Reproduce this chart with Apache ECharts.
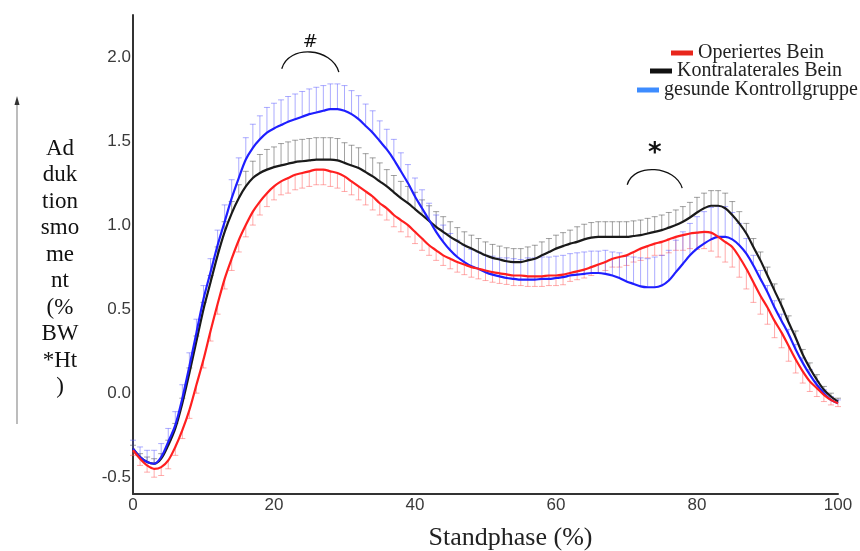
<!DOCTYPE html>
<html>
<head>
<meta charset="utf-8">
<script src="https://cdn.jsdelivr.net/npm/echarts@6/dist/echarts.min.js"></script>
<style>html,body{margin:0;padding:0;background:#fff;}#c{width:860px;height:551px;}</style>
</head>
<body>
<div id="c"></div>
<script>
// ---- data ----
const stancePhase = Array.from({length: 101}, (_, i) => i); // 0..100 % stance
const xTicks = [0, 20, 40, 60, 80, 100];
const yTickLabels = ['-0.5', '0.0', '0.5', '1.0', '1.5', '2.0'];
const seriesNames = ['Operiertes Bein', 'Kontralaterales Bein', 'gesunde Kontrollgruppe'];

const operiertMean = [
 -0.34,-0.39,-0.43,-0.45,-0.44,-0.40,-0.32,-0.22,-0.10,0.05,
 0.20,0.37,0.53,0.68,0.80,0.91,1.00,1.08,1.14,1.19,
 1.23,1.26,1.28,1.30,1.31,1.32,1.33,1.33,1.32,1.31,
 1.29,1.26,1.23,1.20,1.17,1.13,1.10,1.06,1.03,1.00,
 0.96,0.92,0.88,0.85,0.82,0.80,0.78,0.765,0.75,0.74,
 0.73,0.72,0.713,0.707,0.70,0.70,0.695,0.695,0.695,0.70,
 0.70,0.705,0.715,0.725,0.735,0.75,0.765,0.78,0.80,0.81,
 0.82,0.84,0.86,0.875,0.89,0.90,0.915,0.93,0.94,0.95,
 0.955,0.96,0.955,0.93,0.90,0.87,0.81,0.74,0.66,0.58,
 0.51,0.43,0.36,0.28,0.20,0.13,0.07,0.03,-0.01,-0.04,
 -0.06];
const operiertSD = [
 0.03,0.04,0.04,0.05,0.05,0.05,0.05,0.05,0.05,0.05,
 0.05,0.06,0.06,0.06,0.07,0.07,0.07,0.08,0.08,0.08,
 0.08,0.08,0.09,0.09,0.09,0.09,0.09,0.09,0.09,0.09,
 0.09,0.08,0.08,0.08,0.08,0.07,0.07,0.07,0.07,0.07,
 0.07,0.07,0.06,0.06,0.06,0.06,0.06,0.06,0.06,0.06,
 0.06,0.06,0.06,0.06,0.06,0.06,0.06,0.06,0.06,0.06,
 0.06,0.06,0.05,0.05,0.05,0.05,0.05,0.05,0.05,0.06,
 0.06,0.06,0.07,0.07,0.07,0.08,0.08,0.08,0.09,0.09,
 0.10,0.10,0.11,0.12,0.12,0.12,0.12,0.12,0.12,0.11,
 0.10,0.10,0.09,0.09,0.08,0.07,0.06,0.05,0.04,0.03,
 0.02];

const kontraMean = [
 -0.33,-0.38,-0.41,-0.42,-0.39,-0.31,-0.21,-0.06,0.12,0.31,
 0.50,0.66,0.82,0.96,1.07,1.16,1.23,1.28,1.31,1.33,
 1.345,1.355,1.365,1.375,1.38,1.385,1.39,1.39,1.39,1.385,
 1.37,1.355,1.34,1.315,1.29,1.26,1.23,1.195,1.16,1.13,
 1.095,1.06,1.025,0.99,0.96,0.93,0.905,0.88,0.86,0.84,
 0.82,0.805,0.795,0.785,0.78,0.78,0.79,0.80,0.82,0.84,
 0.86,0.875,0.89,0.90,0.915,0.925,0.93,0.93,0.93,0.93,
 0.93,0.935,0.94,0.95,0.96,0.97,0.985,1.00,1.02,1.045,
 1.075,1.10,1.115,1.115,1.10,1.06,1.01,0.95,0.87,0.79,
 0.70,0.61,0.52,0.42,0.33,0.23,0.15,0.08,0.02,-0.02,
 -0.05];
const kontraSD = [
 0.02,0.02,0.03,0.03,0.03,0.03,0.03,0.03,0.03,0.03,
 0.04,0.04,0.05,0.06,0.07,0.08,0.09,0.10,0.11,0.12,
 0.12,0.13,0.13,0.13,0.13,0.13,0.13,0.13,0.13,0.13,
 0.12,0.12,0.12,0.11,0.11,0.11,0.10,0.10,0.10,0.10,
 0.10,0.09,0.09,0.09,0.09,0.09,0.08,0.08,0.08,0.08,
 0.08,0.08,0.08,0.08,0.08,0.08,0.08,0.08,0.08,0.08,
 0.08,0.08,0.08,0.09,0.09,0.09,0.09,0.09,0.09,0.09,
 0.09,0.09,0.09,0.09,0.09,0.09,0.09,0.09,0.09,0.09,
 0.09,0.09,0.09,0.09,0.09,0.08,0.07,0.06,0.05,0.05,
 0.05,0.04,0.04,0.04,0.04,0.03,0.03,0.03,0.02,0.02,
 0.02];

const kontrollMean = [
 -0.33,-0.38,-0.41,-0.42,-0.38,-0.29,-0.19,-0.03,0.16,0.36,
 0.56,0.72,0.88,1.02,1.16,1.28,1.39,1.46,1.51,1.55,
 1.575,1.595,1.615,1.63,1.645,1.66,1.67,1.68,1.69,1.69,
 1.68,1.66,1.63,1.59,1.55,1.50,1.45,1.39,1.32,1.25,
 1.17,1.10,1.03,0.96,0.90,0.85,0.81,0.78,0.755,0.74,
 0.72,0.705,0.695,0.685,0.68,0.675,0.675,0.675,0.68,0.68,
 0.685,0.69,0.70,0.705,0.71,0.715,0.715,0.71,0.70,0.685,
 0.665,0.65,0.635,0.63,0.63,0.64,0.67,0.72,0.77,0.82,
 0.86,0.89,0.915,0.93,0.93,0.915,0.88,0.83,0.76,0.68,
 0.60,0.51,0.43,0.35,0.26,0.18,0.11,0.05,0.00,-0.04,
 -0.06];
const kontrollSD = [
 0.05,0.06,0.07,0.08,0.08,0.08,0.08,0.08,0.08,0.08,
 0.08,0.08,0.09,0.10,0.11,0.12,0.13,0.14,0.14,0.15,
 0.15,0.15,0.15,0.15,0.15,0.15,0.15,0.15,0.15,0.15,
 0.15,0.14,0.14,0.13,0.13,0.12,0.12,0.12,0.11,0.11,
 0.11,0.11,0.10,0.10,0.10,0.10,0.10,0.10,0.10,0.10,
 0.10,0.11,0.11,0.12,0.12,0.12,0.13,0.13,0.13,0.13,
 0.13,0.13,0.13,0.13,0.13,0.13,0.13,0.14,0.14,0.15,
 0.15,0.16,0.17,0.17,0.18,0.18,0.18,0.19,0.19,0.19,
 0.19,0.19,0.19,0.18,0.18,0.16,0.13,0.09,0.06,0.05,
 0.04,0.04,0.04,0.03,0.03,0.03,0.03,0.02,0.02,0.02,
 0.02];

const yTitleLines = ['Ad', 'duk', 'tion', 'smo', 'me', 'nt', '(%', 'BW', '*Ht', ')'];
const xTitle = 'Standphase (%)';
// significance annotations (data units)
const annotations = [
  {text: '#', x1: 21.1, x2: 29.2, yBase: 1.93, yPeak: 2.04, yText: 2.09},
  {text: '*', x1: 70.1, x2: 77.9, yBase: 1.24, yPeak: 1.34, yText: 1.42}
];

// ---- chart ----
const chart = echarts.init(document.getElementById('c'), null, {renderer: 'canvas'});

function errorBarSeries(name, mean, sd, dir, color) {
  return {
    type: 'custom',
    name: name + ' SD',
    z: 2,
    silent: true,
    data: stancePhase.map((x, i) => [x, mean[i], sd[i]]),
    encode: {x: 0, y: 1},
    renderItem: function (params, api) {
      const x = api.value(0), m = api.value(1), s = api.value(2);
      const p0 = api.coord([x, m]);
      const p1 = api.coord([x, m + dir * s]);
      const hw = 3;
      const st = {stroke: color, lineWidth: 1};
      return {
        type: 'group',
        children: [
          {type: 'line', shape: {x1: p0[0], y1: p0[1], x2: p1[0], y2: p1[1]}, style: st},
          {type: 'line', shape: {x1: p1[0] - hw, y1: p1[1], x2: p1[0] + hw, y2: p1[1]}, style: st}
        ]
      };
    }
  };
}

function lineSeries(name, mean, color, z) {
  return {
    type: 'line',
    name: name,
    z: z,
    data: stancePhase.map((x, i) => [x, mean[i]]),
    showSymbol: false,
    smooth: 0.3,
    lineStyle: {color: color, width: 2.2},
    itemStyle: {color: color}
  };
}

const legendColors = ['#e8261c', '#111111', '#3d8cff'];
const legendLefts = [671, 650, 637];
const legendTops = [43, 61, 80];

const option = {
  animation: false,
  backgroundColor: '#fff',
  grid: {left: 133, right: 22, top: 15, bottom: 57, containLabel: false, outerBoundsMode: 'none'},
  legend: seriesNames.map((n, i) => ({
    data: [{name: n, itemStyle: {color: legendColors[i]}}],
    left: legendLefts[i], top: legendTops[i], padding: 0,
    icon: 'rect', itemWidth: 22, itemHeight: 5, selectedMode: false,
    textStyle: {fontFamily: 'Liberation Serif', fontSize: 20, color: '#222', lineHeight: 20}
  })),
  xAxis: {
    type: 'value', min: 0, max: 100, interval: 20,
    name: xTitle, nameLocation: 'middle', nameGap: 44,
    nameTextStyle: {fontFamily: 'Liberation Serif', fontSize: 26, color: '#222', verticalAlign: 'middle', padding: [0, 0, 0, 50]},
    axisLine: {show: true, onZero: false, lineStyle: {color: '#333', width: 2}},
    axisTick: {show: false},
    splitLine: {show: false},
    axisLabel: {fontFamily: 'Liberation Sans', fontSize: 17, color: '#3a3a3a', margin: 3,
      formatter: v => xTicks.includes(Math.round(v)) ? String(Math.round(v)) : ''}
  },
  yAxis: {
    type: 'value', min: -0.6, max: 2.25, interval: 0.05,
    name: '\n' + yTitleLines.join('\n'), nameLocation: 'middle', nameRotate: 0, nameGap: 73,
    nameTextStyle: {fontFamily: 'Liberation Serif', fontSize: 23, lineHeight: 26.5, color: '#111',
      align: 'center', verticalAlign: 'middle'},
    axisLine: {show: true, onZero: false, lineStyle: {color: '#333', width: 2}},
    axisTick: {show: false},
    splitLine: {show: false},
    axisLabel: {fontFamily: 'Liberation Sans', fontSize: 17, color: '#3a3a3a', margin: 2,
      formatter: function (v) {
        const d = v * 2;
        if (Math.abs(d - Math.round(d)) > 1e-6) return '';
        const s = (Math.round(d) / 2).toFixed(1);
        return yTickLabels.includes(s) ? s : '';
      }}
  },
  series: [
    errorBarSeries(seriesNames[0], operiertMean, operiertSD, -1, 'rgba(255,90,90,0.5)'),
    errorBarSeries(seriesNames[1], kontraMean, kontraSD, 1, 'rgba(70,70,70,0.5)'),
    errorBarSeries(seriesNames[2], kontrollMean, kontrollSD, 1, 'rgba(90,90,255,0.5)'),
    lineSeries(seriesNames[1], kontraMean, '#1a1a1a', 3),
    lineSeries(seriesNames[2], kontrollMean, '#1f1fff', 4),
    lineSeries(seriesNames[0], operiertMean, '#ff1f1f', 5)
  ]
};
chart.setOption(option);

// annotations + side arrow, anchored through the chart's coordinate system
const graphics = [];
annotations.forEach(a => {
  const p1 = chart.convertToPixel({gridIndex: 0}, [a.x1, a.yBase]);
  const p2 = chart.convertToPixel({gridIndex: 0}, [a.x2, a.yBase - 0.02]);
  const pk = chart.convertToPixel({gridIndex: 0}, [(a.x1 + a.x2) / 2, a.yPeak]);
  const pt = chart.convertToPixel({gridIndex: 0}, [(a.x1 + a.x2) / 2, a.yText]);
  const w = p2[0] - p1[0];
  const h = p1[1] - pk[1];
  graphics.push({
    type: 'bezierCurve', silent: true, z: 10,
    shape: {x1: p1[0], y1: p1[1], x2: p2[0], y2: p2[1],
      cpx1: p1[0] + 0.12 * w, cpy1: p1[1] - 1.33 * h,
      cpx2: p2[0] - 0.12 * w, cpy2: p2[1] - 1.33 * h},
    style: {stroke: '#111', lineWidth: 1.3, fill: null}
  });
  graphics.push({
    type: 'text', silent: true, z: 10, x: pt[0], y: pt[1],
    style: {text: a.text, fill: '#111', align: 'center', verticalAlign: 'middle',
      font: a.text === '*' ? 'bold 26px "DejaVu Sans"' : '18px "DejaVu Sans"'}
  });
});
graphics.push({type: 'line', silent: true, shape: {x1: 17, y1: 424, x2: 17, y2: 104},
  style: {stroke: '#999', lineWidth: 1.3}});
graphics.push({type: 'polygon', silent: true, shape: {points: [[17, 96], [14.5, 105], [19.5, 105]]},
  style: {fill: '#333'}});
chart.setOption({graphic: graphics});
</script>
</body>
</html>
